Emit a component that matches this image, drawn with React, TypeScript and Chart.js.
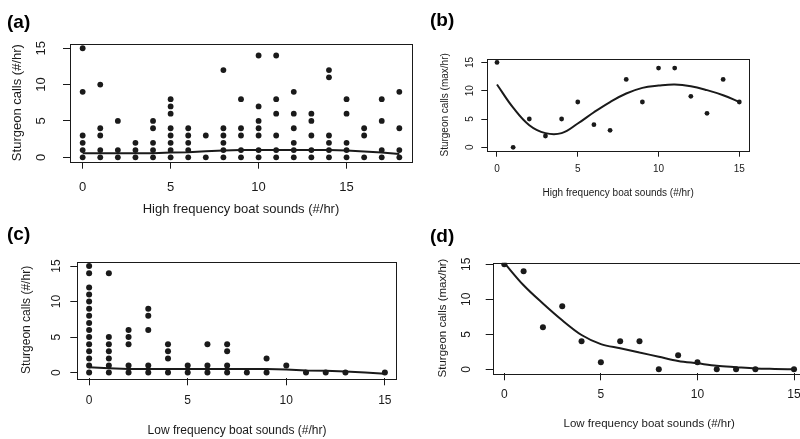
import { useEffect, useRef } from "react";
import { Chart, registerables } from "chart.js";

Chart.register(...registerables);

const FONT = "'Liberation Sans', Arial, Helvetica, sans-serif";
const INK = "#1a1a1a";

// (a) Sturgeon calls per hour grouped by high frequency boat sounds per hour
const hfSoundCounts = [0, 1, 2, 3, 4, 5, 6, 7, 8, 9, 10, 11, 12, 13, 14, 15, 16, 17, 18];
const hfCallsBySound = [
  [0, 1, 2, 3, 9, 15],
  [0, 1, 3, 4, 10],
  [0, 1, 5],
  [0, 1, 2],
  [0, 1, 2, 4, 5],
  [0, 1, 2, 3, 4, 6, 7, 8],
  [0, 1, 2, 3, 4],
  [0, 3],
  [0, 1, 2, 3, 4, 12],
  [0, 1, 3, 4, 8],
  [0, 1, 3, 4, 5, 7, 14],
  [0, 1, 3, 6, 8, 14],
  [0, 1, 2, 4, 6, 9],
  [0, 1, 3, 5, 6],
  [0, 1, 2, 3, 11, 12],
  [0, 1, 2, 6, 8],
  [0, 3, 4],
  [0, 1, 5, 8],
  [0, 1, 4, 9],
];
const hfFit = [0.55, 0.55, 0.55, 0.55, 0.55, 0.65, 0.7, 0.85, 0.95, 1.0, 1.0, 1.0, 1.0, 1.0, 1.0, 0.95, 0.8, 0.65, 0.45];

// (b) Maximum sturgeon calls per hour vs high frequency boat sounds
const hfMaxSounds = [0, 1, 2, 3, 4, 5, 6, 7, 8, 9, 10, 11, 12, 13, 14, 15];
const hfMaxCalls = [15, 0, 5, 2, 5, 8, 4, 3, 12, 8, 14, 14, 9, 6, 12, 8];
const hfMaxFit = [11.1, 7.0, 3.9, 2.5, 2.5, 4.2, 6.2, 8.0, 9.5, 10.5, 10.9, 11.1, 10.8, 10.1, 9.2, 8.0];

// (c) Sturgeon calls per hour grouped by low frequency boat sounds per hour
const lfSoundCounts = [0, 1, 2, 3, 4, 5, 6, 7, 8, 9, 10, 11, 12, 13, 15];
const lfCallsBySound = [
  [0, 1, 2, 3, 4, 5, 6, 7, 8, 9, 10, 11, 12, 14, 15],
  [0, 1, 2, 3, 4, 5, 14],
  [0, 1, 4, 5, 6],
  [0, 1, 6, 8, 9],
  [0, 2, 3, 4],
  [0, 1],
  [0, 1, 4],
  [0, 1, 3, 4],
  [0],
  [0, 2],
  [1],
  [0],
  [0],
  [0],
  [0],
];
const lfFitSounds = [0, 1, 2, 3, 4, 5, 6, 7, 8, 9, 10, 11, 12, 13, 14, 15];
const lfFit = [0.75, 0.6, 0.5, 0.5, 0.5, 0.5, 0.5, 0.5, 0.5, 0.5, 0.45, 0.3, 0.25, 0.15, 0.0, -0.15];

// (d) Maximum sturgeon calls per hour vs low frequency boat sounds
const lfMaxSounds = [0, 1, 2, 3, 4, 5, 6, 7, 8, 9, 10, 11, 12, 13, 15];
const lfMaxCalls = [15, 14, 6, 9, 4, 1, 4, 4, 0, 2, 1, 0, 0, 0, 0];
const lfMaxFitSounds = [0, 1, 2, 3, 4, 5, 6, 7, 8, 9, 10, 11, 12, 13, 14, 15];
const lfMaxFit = [15.2, 12.0, 9.4, 7.0, 4.9, 3.6, 3.0, 2.4, 1.8, 1.2, 0.85, 0.5, 0.3, 0.12, 0.05, 0.0];

const axisTicks = [0, 5, 10, 15];

type Pt = { x: number; y: number };

const groupedPoints = (xs: number[], groups: number[][]): Pt[] =>
  xs.flatMap((x, i) => groups[i].map((y) => ({ x, y })));
const pairPoints = (xs: number[], ys: number[]): Pt[] => xs.map((x, i) => ({ x, y: ys[i] }));

interface Panel {
  tag: string;
  canvas: { x: number; y: number; w: number; h: number };
  area: { l: number; t: number; r: number; b: number };
  xRange: [number, number];
  yRange: [number, number];
  tickSize: number;
  titleSize: number;
  tickLen: number;
  xTickPad: number;
  xTitlePad: number;
  yTitlePad: number;
  yTickX: number;
  tagPos: [number, number];
  pointRadius: number;
  xTitle: string;
  yTitle: string;
  points: Pt[];
  fit: Pt[];
  smooth: "none" | "tension" | "monotone";
}

const panels: Panel[] = [
  {
    tag: "(a)",
    canvas: { x: 0, y: 0, w: 420, h: 220 },
    area: { l: 70, t: 43.5, r: 412, b: 161.7 },
    xRange: [-0.72, 18.72],
    yRange: [-0.6, 15.65],
    tickSize: 13,
    titleSize: 13,
    tickLen: 7,
    xTickPad: 11,
    xTitlePad: 3.2,
    yTitlePad: 9.2,
    yTickX: 41,
    tagPos: [7, 23],
    pointRadius: 2.9,
    xTitle: "High frequency boat sounds (#/hr)",
    yTitle: "Sturgeon calls (#/hr)",
    points: groupedPoints(hfSoundCounts, hfCallsBySound),
    fit: pairPoints(hfSoundCounts, hfFit),
    smooth: "none",
  },
  {
    tag: "(b)",
    canvas: { x: 420, y: 0, w: 380, h: 220 },
    area: { l: 67.3, t: 59, r: 329, b: 150.7 },
    xRange: [-0.6, 15.6],
    yRange: [-0.6, 15.6],
    tickSize: 10,
    titleSize: 10,
    tickLen: 6,
    xTickPad: 6.6,
    xTitlePad: 20.7,
    yTitlePad: 19,
    yTickX: 50,
    tagPos: [10, 21],
    pointRadius: 2.4,
    xTitle: "High frequency boat sounds (#/hr)",
    yTitle: "Sturgeon calls (max/hr)",
    points: pairPoints(hfMaxSounds, hfMaxCalls),
    fit: pairPoints(hfMaxSounds, hfMaxFit),
    smooth: "tension",
  },
  {
    tag: "(c)",
    canvas: { x: 0, y: 220, w: 420, h: 219 },
    area: { l: 77.3, t: 41.5, r: 396.7, b: 158.3 },
    xRange: [-0.6, 15.6],
    yRange: [-0.8, 15.65],
    tickSize: 12,
    titleSize: 12,
    tickLen: 7,
    xTickPad: 8.5,
    xTitlePad: 0.8,
    yTitlePad: 19.8,
    yTickX: 57,
    tagPos: [7, 15],
    pointRadius: 3,
    xTitle: "Low frequency boat sounds (#/hr)",
    yTitle: "Sturgeon calls (#/hr)",
    points: groupedPoints(lfSoundCounts, lfCallsBySound),
    fit: pairPoints(lfFitSounds, lfFit),
    smooth: "none",
  },
  {
    tag: "(d)",
    canvas: { x: 420, y: 220, w: 400, h: 219 },
    area: { l: 72.7, t: 42.7, r: 385.6, b: 153.3 },
    xRange: [-0.6, 15.6],
    yRange: [-0.57, 15.23],
    tickSize: 12,
    titleSize: 11.5,
    tickLen: 7,
    xTickPad: 7.5,
    xTitlePad: 8.1,
    yTitlePad: 16.1,
    yTickX: 46.5,
    tagPos: [10, 17],
    pointRadius: 3,
    xTitle: "Low frequency boat sounds (#/hr)",
    yTitle: "Sturgeon calls (max/hr)",
    points: pairPoints(lfMaxSounds, lfMaxCalls),
    fit: pairPoints(lfMaxFitSounds, lfMaxFit),
    smooth: "monotone",
  },
];

function PanelChart({ p }: { p: Panel }) {
  const ref = useRef<HTMLCanvasElement | null>(null);

  useEffect(() => {
    const canvas = ref.current;
    if (!canvas) return;

    // Box around the plot region, rotated y tick labels and the panel tag
    const framePlugin = {
      id: "frame",
      afterDraw(chart: any) {
        const { ctx, chartArea } = chart;
        const ys = chart.scales.y;
        ctx.save();
        ctx.strokeStyle = INK;
        ctx.lineWidth = 1;
        ctx.strokeRect(
          Math.round(chartArea.left) + 0.5,
          Math.round(chartArea.top) + 0.5,
          Math.round(chartArea.right - chartArea.left),
          Math.round(chartArea.bottom - chartArea.top)
        );
        ctx.fillStyle = INK;
        ctx.font = `${p.tickSize}px ${FONT}`;
        ctx.textAlign = "center";
        ctx.textBaseline = "middle";
        axisTicks.forEach((v) => {
          const py = ys.getPixelForValue(v);
          ctx.save();
          ctx.translate(p.yTickX, py);
          ctx.rotate(-Math.PI / 2);
          ctx.fillText(String(v), 0, 0);
          ctx.restore();
        });
        ctx.font = `bold 19px ${FONT}`;
        ctx.textAlign = "left";
        ctx.fillStyle = "#000";
        ctx.fillText(p.tag, p.tagPos[0], p.tagPos[1]);
        ctx.restore();
      },
    };

    const grid = {
      display: true,
      drawOnChartArea: false,
      drawTicks: true,
      tickLength: p.tickLen,
      color: INK,
      lineWidth: 1,
    };

    const chart = new Chart(canvas, {
      type: "scatter",
      data: {
        datasets: [
          {
            data: p.points,
            pointRadius: p.pointRadius,
            pointHoverRadius: p.pointRadius,
            pointBackgroundColor: INK,
            pointBorderWidth: 0,
            showLine: false,
          },
          {
            data: p.fit,
            showLine: true,
            pointRadius: 0,
            pointHoverRadius: 0,
            borderColor: INK,
            borderWidth: 2,
            tension: p.smooth === "tension" ? 0.4 : 0,
            cubicInterpolationMode: p.smooth === "monotone" ? "monotone" : "default",
          },
        ],
      },
      options: {
        animation: false,
        responsive: false,
        devicePixelRatio: 1,
        events: [],
        layout: {
          padding: { left: 0, top: p.area.t, right: p.canvas.w - p.area.r, bottom: 0 },
        },
        plugins: {
          legend: { display: false },
          tooltip: { enabled: false },
        },
        scales: {
          x: {
            type: "linear",
            min: p.xRange[0],
            max: p.xRange[1],
            afterBuildTicks: (s: any) => {
              s.ticks = axisTicks.map((v) => ({ value: v }));
            },
            afterFit: (s: any) => {
              s.height = p.canvas.h - p.area.b;
            },
            grid,
            border: { display: false },
            ticks: {
              padding: p.xTickPad,
              autoSkip: false,
              maxRotation: 0,
              minRotation: 0,
              color: INK,
              font: { family: FONT, size: p.tickSize },
            },
            title: {
              display: true,
              text: p.xTitle,
              color: INK,
              font: { family: FONT, size: p.titleSize },
              padding: { top: 0, bottom: p.xTitlePad },
            },
          },
          y: {
            type: "linear",
            min: p.yRange[0],
            max: p.yRange[1],
            afterBuildTicks: (s: any) => {
              s.ticks = axisTicks.map((v) => ({ value: v }));
            },
            afterFit: (s: any) => {
              s.width = p.area.l;
            },
            grid,
            border: { display: false },
            ticks: { display: false },
            title: {
              display: true,
              text: p.yTitle,
              color: INK,
              font: { family: FONT, size: p.titleSize },
              padding: { top: p.yTitlePad, bottom: 0 },
            },
          },
        },
      } as any,
      plugins: [framePlugin],
    });

    return () => chart.destroy();
  }, [p]);

  return (
    <canvas
      ref={ref}
      width={p.canvas.w}
      height={p.canvas.h}
      style={{
        position: "absolute",
        left: p.canvas.x,
        top: p.canvas.y,
        width: p.canvas.w,
        height: p.canvas.h,
      }}
    />
  );
}

export default function App() {
  return (
    <div
      style={{
        position: "absolute",
        left: 0,
        top: 0,
        width: 800,
        height: 439,
        overflow: "hidden",
        background: "#fff",
      }}
    >
      {panels.map((p) => (
        <PanelChart key={p.tag} p={p} />
      ))}
    </div>
  );
}
